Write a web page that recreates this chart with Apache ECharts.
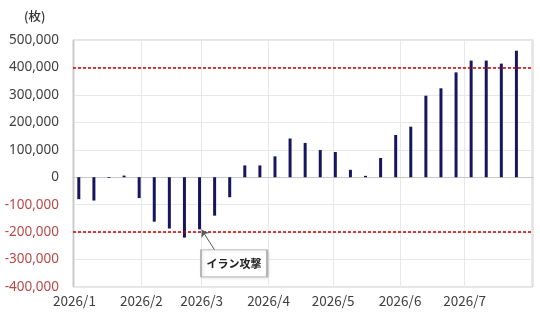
<!DOCTYPE html>
<html>
<head>
<meta charset="utf-8">
<title>枚数推移</title>
<script src="https://cdn.jsdelivr.net/npm/echarts@6/dist/echarts.min.js"></script>
<style type="text/css">
html, body {margin: 0; padding: 0; background: #fff;}
#main {width: 540px; height: 314px;}
</style>
</head>
<body>
<div id="main"></div>
<script type="text/javascript">
// 週次データ
var weeks = ['2026-01-03','2026-01-10','2026-01-17','2026-01-24','2026-01-31',
    '2026-02-07','2026-02-14','2026-02-21','2026-02-28','2026-03-07',
    '2026-03-14','2026-03-21','2026-03-28','2026-04-04','2026-04-11',
    '2026-04-18','2026-04-25','2026-05-02','2026-05-09','2026-05-16',
    '2026-05-23','2026-05-30','2026-06-06','2026-06-13','2026-06-20',
    '2026-06-27','2026-07-04','2026-07-11','2026-07-18','2026-07-25'];
var netValues = [-80000, -85000, -3000, 6000, -76000,
    -162000, -187000, -220000, -190000, -140000,
    -73000, 43000, 43000, 76000, 141000,
    125000, 99000, 92000, 27000, 5000,
    70000, 154000, 184000, 297000, 324000,
    382000, 425000, 425000, 414000, 461000];
var refLines = [400000, -200000];
var yTicks = [-400000, -300000, -200000, -100000, 0, 100000, 200000, 300000, 400000, 500000];
var monthLabels = ['2026/1','2026/2','2026/3','2026/4','2026/5','2026/6','2026/7'];

// 注記（イラン攻撃）
var noteText = 'イラン攻撃';
var noteFrom = ['2026-03-07', -265000];
var noteTo = ['2026-03-01', -191000];
var noteBox = ['2026-03-16', -314000];

var myChart = echarts.init(document.getElementById('main'));

var seriesData = weeks.map(function (d, i) { return [d, netValues[i]]; });

var option = {
    animation: false,
    title: {
        text: '(枚)',
        left: 19,
        top: 5,
        textStyle: {fontSize: 12.5, fontWeight: 500, color: '#333', fontFamily: 'Noto Sans CJK JP'}
    },
    grid: {
        left: 73, right: 7, top: 40, bottom: 27,
        show: true,
        borderColor: '#c8c8c8',
        borderWidth: 1
    },
    xAxis: {
        type: 'time',
        min: '2026-01-01',
        max: '2026-08-01',
        minInterval: 28 * 86400000,
        maxInterval: 31 * 86400000,
        axisLine: {show: true, lineStyle: {color: '#c8c8c8'}},
        axisTick: {show: false},
        splitLine: {show: true, lineStyle: {color: '#e8e8e8'}},
        axisLabel: {
            color: '#404040',
            fontSize: 13.5,
            fontFamily: 'Noto Sans CJK JP',
            margin: 7,
            showMinLabel: true,
            hideOverlap: false,
            formatter: function (val) {
                var d = new Date(val);
                if (d.getDate() !== 1) return '';
                return monthLabels[d.getMonth()] || '';
            }
        }
    },
    yAxis: {
        type: 'value',
        min: yTicks[0],
        max: yTicks[yTicks.length - 1],
        interval: 100000,
        axisLine: {show: true, lineStyle: {color: '#c8c8c8'}},
        axisTick: {show: false},
        splitLine: {lineStyle: {color: '#e8e8e8'}},
        axisLabel: {
            margin: 14,
            fontSize: 13.5,
            fontFamily: 'Noto Sans',
            formatter: function (v) {
                var s = (v < 0 ? '-' : '') + Math.abs(v).toLocaleString('en-US');
                return v < 0 ? '{neg|' + s + '}' : '{pos|' + s + '}';
            },
            rich: {
                pos: {color: '#404040', fontSize: 13.5, fontFamily: 'Noto Sans'},
                neg: {color: '#b84a48', fontSize: 13.5, fontFamily: 'Noto Sans'}
            }
        }
    },
    series: [
        {
            name: '枚数',
            type: 'bar',
            barWidth: 3,
            itemStyle: {color: '#161660'},
            data: seriesData,
            markLine: {
                silent: true,
                symbol: 'none',
                label: {show: false},
                lineStyle: {color: '#c00000', type: [3, 2], width: 1.5},
                data: refLines.map(function (v) { return {yAxis: v}; })
            },
            markPoint: {
                silent: true,
                data: [{
                    coord: noteBox,
                    symbol: 'rect',
                    symbolSize: [66, 27],
                    itemStyle: {
                        color: '#fff', borderColor: '#a6a6a6', borderWidth: 1,
                        shadowColor: 'rgba(0,0,0,0.15)', shadowBlur: 3, shadowOffsetX: 1, shadowOffsetY: 1
                    },
                    label: {
                        show: true,
                        position: 'inside',
                        formatter: noteText,
                        color: '#222',
                        fontSize: 11,
                        fontWeight: 'bold',
                        fontFamily: 'Noto Sans CJK JP'
                    }
                }]
            }
        },
        {
            // 注記の矢印
            type: 'line',
            data: [],
            markLine: {
                silent: true,
                symbol: ['none', 'arrow'],
                symbolSize: 7,
                label: {show: false},
                lineStyle: {color: '#595959', type: 'solid', width: 1},
                data: [[{coord: noteFrom}, {coord: noteTo}]]
            }
        }
    ]
};

myChart.setOption(option);
</script>
</body>
</html>
